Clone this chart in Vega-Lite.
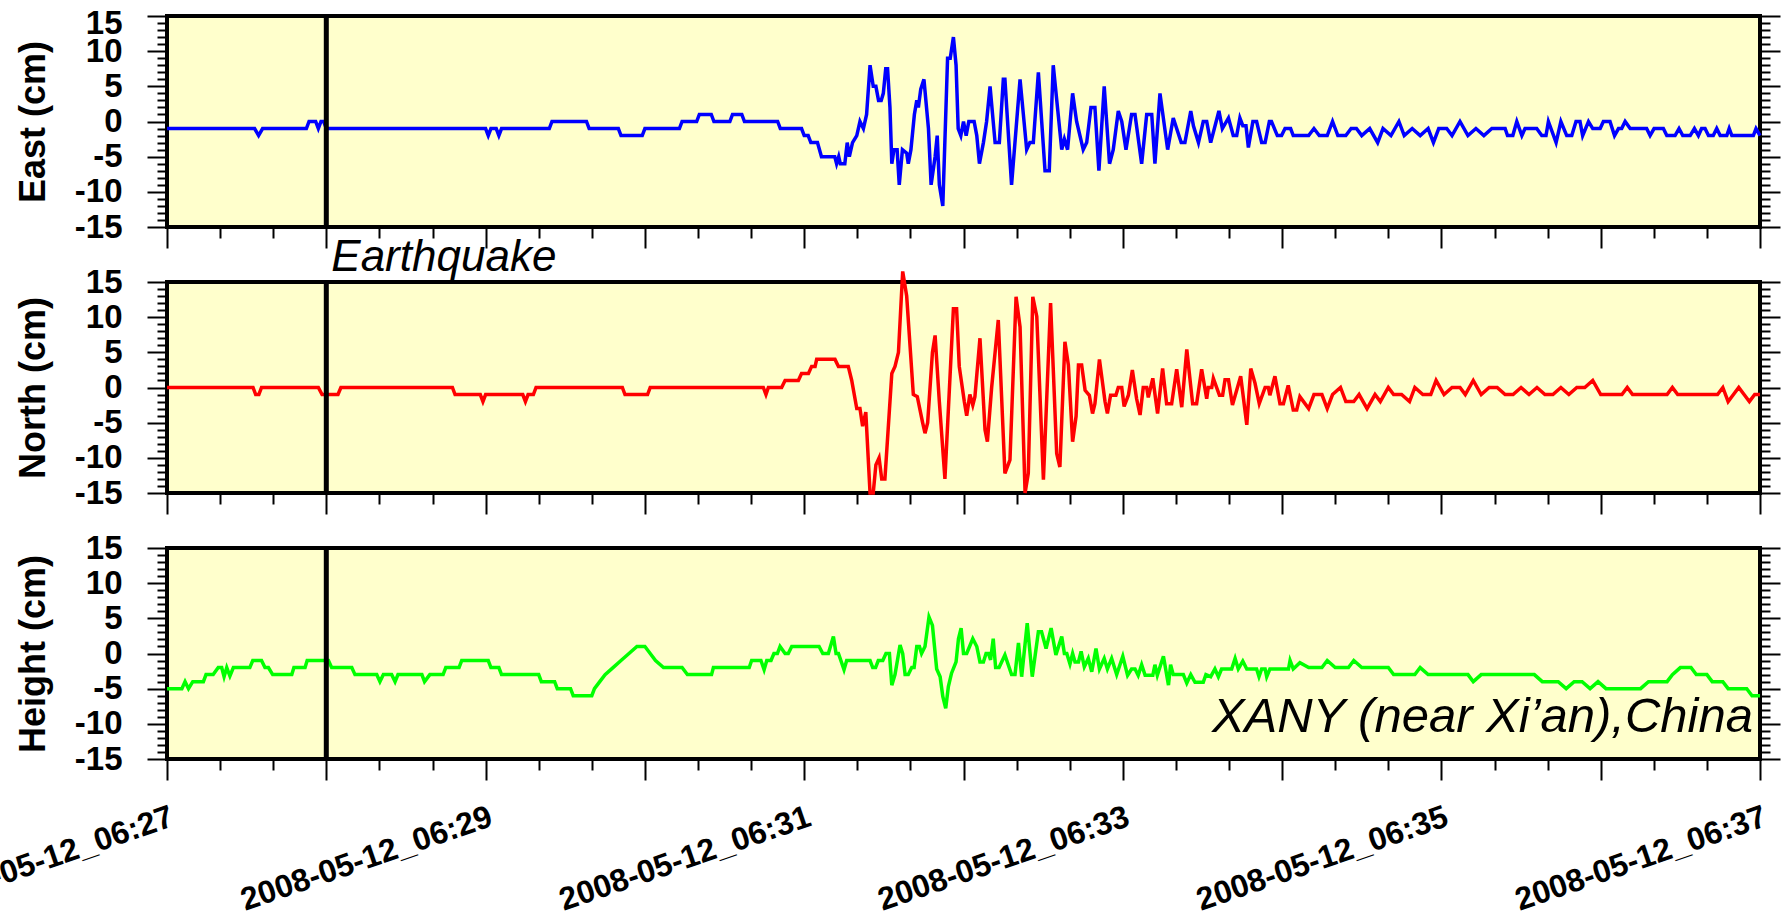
{
  "$schema": "https://vega.github.io/schema/vega-lite/v6.json",
  "autosize": {"type": "none"},
  "padding": {"left": 167, "top": 16, "right": 1618, "bottom": 896},
  "background": "white",
  "bounds": "flush",
  "spacing": 55,
  "config": {
    "view": {"fill": "#ffffcc", "stroke": "black", "strokeWidth": 4},
    "axis": {"domain": false, "grid": false, "tickColor": "black", "tickWidth": 2, "labelColor": "black", "titleColor": "black", "labelFont": "Liberation Sans", "titleFont": "Liberation Sans", "labelOverlap": false}
  },
  "datasets": {
    "quake": [{"t": 60}],
    "east": [
      {"t":0,"v":-1},{"t":33,"v":-1},{"t":34.5,"v":-2},{"t":36,"v":-1},{"t":52.5,"v":-1},{"t":53.5,"v":0},{"t":56,"v":0},{"t":57,"v":-1},{"t":58,"v":0},{"t":59,"v":0},{"t":60,"v":-1},
      {"t":120,"v":-1},{"t":121,"v":-2},{"t":122,"v":-1},{"t":124,"v":-1},{"t":125,"v":-2},{"t":126,"v":-1},{"t":144,"v":-1},{"t":145,"v":0},{"t":158,"v":0},{"t":159,"v":-1},{"t":170,"v":-1},{"t":171,"v":-2},{"t":179,"v":-2},{"t":180,"v":-1},{"t":193,"v":-1},{"t":194,"v":0},{"t":199.5,"v":0},
      {"t":200.5,"v":1},{"t":205,"v":1},{"t":206,"v":0},{"t":212,"v":0},{"t":213,"v":1},{"t":216.5,"v":1},{"t":217.5,"v":0},{"t":230,"v":0},{"t":231,"v":-1},{"t":239,"v":-1},{"t":240,"v":-2},{"t":241.5,"v":-2},{"t":242.5,"v":-3},{"t":245,"v":-3},{"t":246.5,"v":-5},{"t":251.5,"v":-5},{"t":252.2,"v":-6},{"t":253,"v":-5},{"t":253.6,"v":-6},{"t":255.3,"v":-6},{"t":256.2,"v":-3},{"t":257,"v":-5},{"t":258.2,"v":-3},{"t":259.8,"v":-2},{"t":261,"v":0},{"t":262.3,"v":-1},{"t":263.5,"v":1},{"t":264.8,"v":8},{"t":266,"v":5},{"t":267,"v":5},{"t":268,"v":3},{"t":269,"v":3},{"t":269.8,"v":4},{"t":270.7,"v":7.5},{"t":271.4,"v":7.5},{"t":272.3,"v":2},{"t":273,"v":-6},{"t":273.8,"v":-4},{"t":275,"v":-4},{"t":275.8,"v":-9},{"t":277,"v":-4},{"t":278.6,"v":-4.5},{"t":279.2,"v":-6},{"t":280.2,"v":-4},{"t":281.5,"v":1},{"t":282.4,"v":3},{"t":283,"v":2},{"t":283.9,"v":4.6},{"t":285.1,"v":6},{"t":286.8,"v":-1},{"t":287.8,"v":-9},{"t":289.3,"v":-5},{"t":290.1,"v":-2},{"t":290.9,"v":-9},{"t":292.2,"v":-12},{"t":294,"v":9},{"t":295,"v":9},{"t":296.2,"v":12},{"t":297.2,"v":8},{"t":298,"v":-1},{"t":299,"v":-2},{"t":300,"v":0},{"t":301,"v":-2},{"t":302,"v":0},{"t":304,"v":0},{"t":305,"v":-2},{"t":306,"v":-6},{"t":307.5,"v":-3},{"t":308.7,"v":0},{"t":310,"v":5},{"t":311.9,"v":-3},{"t":313.5,"v":-3},
      {"t":315,"v":6},{"t":315.6,"v":6},{"t":318.1,"v":-9},{"t":321.3,"v":6},{"t":323.8,"v":-4},{"t":325,"v":-3},{"t":326.3,"v":-3},{"t":328.2,"v":7},{"t":330.7,"v":-7},{"t":332.3,"v":-7},{"t":333.8,"v":8},{"t":337,"v":-4},{"t":338,"v":-2.5},{"t":339.2,"v":-4},{"t":341.1,"v":4},{"t":342.6,"v":0},{"t":345.1,"v":-4},{"t":346.4,"v":-3},{"t":348,"v":2},{"t":349.5,"v":2},{"t":351,"v":-7},{"t":353,"v":5},{"t":355,"v":-6},{"t":356.4,"v":-4},{"t":358.3,"v":1.5},{"t":359.6,"v":0},{"t":361.2,"v":-4},{"t":363.3,"v":1},{"t":364.6,"v":1},{"t":367.1,"v":-6},{"t":369,"v":1},{"t":370.9,"v":1},{"t":372.1,"v":-6},{"t":374,"v":4},{"t":376.9,"v":-4},{"t":379,"v":0.5},{"t":382,"v":-3},{"t":383.4,"v":-3},{"t":385.6,"v":1.5},{"t":386.6,"v":-0.6},{"t":388.5,"v":-3},{"t":390.3,"v":0},{"t":391.6,"v":0},{"t":393.1,"v":-3},{"t":396.2,"v":1.5},{"t":397.5,"v":-1},{"t":399.8,"v":0.5},{"t":401.6,"v":-2},{"t":402.9,"v":-2},{"t":404.1,"v":0.5},{"t":405.2,"v":-0.6},{"t":406.4,"v":-0.6},{"t":407.3,"v":-3.7},{"t":409,"v":0},{"t":410.4,"v":0},{"t":412.3,"v":-3},{"t":413.6,"v":-3},{"t":415.2,"v":0},{"t":416,"v":0},{"t":418.2,"v":-2},{"t":419.8,"v":-2},{"t":421.1,"v":-1},{"t":423.2,"v":-1},{"t":424.2,"v":-2},{"t":427,"v":-2},
      {"t":430,"v":-2},{"t":432,"v":-1},{"t":434,"v":-2},{"t":437,"v":-2},{"t":439,"v":0},{"t":441,"v":-2},{"t":444,"v":-2},{"t":446,"v":-1},{"t":448,"v":-1},{"t":450,"v":-2},{"t":453,"v":-1},{"t":456,"v":-3},{"t":458,"v":-1},{"t":461,"v":-2},{"t":464,"v":0},{"t":466,"v":-2},{"t":469,"v":-1},{"t":472,"v":-2},{"t":475,"v":-1},{"t":477,"v":-3},{"t":479,"v":-1},{"t":482,"v":-1},{"t":484,"v":-2},{"t":487,"v":0},{"t":490,"v":-2},{"t":493,"v":-1},{"t":496,"v":-2},{"t":499,"v":-1},{"t":502,"v":-1},
      {"t":504,"v":-1},{"t":504.9,"v":-2},{"t":506.9,"v":-2},{"t":508.4,"v":0},{"t":510.3,"v":-2},{"t":511.5,"v":-1},{"t":515.9,"v":-1},{"t":517.8,"v":-2},{"t":519.4,"v":-2},{"t":520.3,"v":0},{"t":523.2,"v":-3},{"t":525,"v":0},{"t":527.2,"v":-2},{"t":529.1,"v":-2},{"t":530.7,"v":0},{"t":532.2,"v":0},{"t":533.2,"v":-2},{"t":535.4,"v":0},{"t":537,"v":-1},{"t":539.8,"v":-1},{"t":541,"v":0},{"t":543.5,"v":0},{"t":545.2,"v":-2},{"t":546.7,"v":-1},{"t":547.9,"v":-1},{"t":549.2,"v":0},{"t":551.1,"v":-1},{"t":557.3,"v":-1},{"t":558.6,"v":-2},{"t":560.1,"v":-1},{"t":563.6,"v":-1},{"t":564.9,"v":-2},{"t":568,"v":-2},{"t":569.5,"v":-1},{"t":570.9,"v":-2},{"t":573.7,"v":-2},{"t":575.3,"v":-1},{"t":576.8,"v":-2},{"t":578,"v":-1},{"t":579.3,"v":-1},{"t":580.6,"v":-2},{"t":582.4,"v":-2},{"t":583.7,"v":-1},{"t":585,"v":-2},{"t":587.5,"v":-2},{"t":588.4,"v":-1},{"t":589.4,"v":-2},{"t":597.5,"v":-2},{"t":598.5,"v":-1},{"t":600,"v":-2}
    ],
    "north": [
      {"t":0,"v":0},{"t":32.4,"v":0},{"t":33.4,"v":-1},{"t":34.6,"v":-1},{"t":35.6,"v":0},{"t":57,"v":0},{"t":58.4,"v":-1},{"t":64.4,"v":-1},{"t":65.5,"v":0},{"t":107.5,"v":0},{"t":108.5,"v":-1},{"t":118,"v":-1},{"t":119,"v":-2},{"t":120,"v":-1},{"t":134,"v":-1},{"t":135,"v":-2},{"t":136,"v":-1},{"t":138,"v":-1},{"t":139,"v":0},{"t":171.5,"v":0},{"t":172.5,"v":-1},{"t":181,"v":-1},{"t":182,"v":0},
      {"t":224.6,"v":0},{"t":225.6,"v":-1},{"t":226.5,"v":0},{"t":231.5,"v":0},{"t":232.8,"v":1},{"t":237.8,"v":1},{"t":239,"v":2},{"t":241.6,"v":2},{"t":242.8,"v":3},{"t":244.1,"v":3},{"t":244.7,"v":4},{"t":251.6,"v":4},{"t":252.9,"v":3},{"t":256.6,"v":3},{"t":257.9,"v":1},{"t":259.8,"v":-3},{"t":261,"v":-3},{"t":262,"v":-5.5},{"t":263.2,"v":-3.5},{"t":264.8,"v":-15},{"t":266,"v":-15},{"t":267,"v":-11},{"t":268.2,"v":-10},{"t":269.2,"v":-13},{"t":270.4,"v":-13},{"t":273,"v":2},{"t":274.2,"v":3},{"t":275.5,"v":5},{"t":277.1,"v":16.5},{"t":278.6,"v":13},{"t":281.1,"v":-1},{"t":282.6,"v":-1.3},{"t":284.6,"v":-5},{"t":285.5,"v":-6.5},{"t":286.5,"v":-5},{"t":288.3,"v":5},{"t":289.3,"v":7.4},{"t":290.9,"v":-2},{"t":293,"v":-13},{"t":296.2,"v":11.2},{"t":297.4,"v":11.2},{"t":298.4,"v":3},{"t":300.3,"v":-2},{"t":301.2,"v":-4},{"t":302.4,"v":-1},{"t":303.5,"v":-2.5},{"t":304.3,"v":-1.3},{"t":306.2,"v":7},{"t":308.1,"v":-6},{"t":309,"v":-7.7},{"t":310.6,"v":0},{"t":311.9,"v":5},{"t":313.1,"v":9.6},
      {"t":315.6,"v":-12.2},{"t":317.5,"v":-10.3},{"t":319.8,"v":12.9},{"t":321.3,"v":8.6},{"t":323.2,"v":-15},{"t":324.4,"v":-12.2},{"t":326.1,"v":12.9},{"t":327.6,"v":10.1},{"t":330.1,"v":-13.1},{"t":332.8,"v":12},{"t":335.1,"v":-9.4},{"t":336.3,"v":-11.3},{"t":338.2,"v":6.5},{"t":339.5,"v":3.2},{"t":341.1,"v":-7.7},{"t":342.4,"v":-4.1},{"t":343.3,"v":3.2},{"t":344.5,"v":3.2},{"t":345.8,"v":-0.4},{"t":347.4,"v":-1.1},{"t":348.6,"v":-3.7},{"t":349.5,"v":-2.3},{"t":351.2,"v":4},{"t":353.3,"v":-2},{"t":354.2,"v":-3.7},{"t":355.4,"v":-1.1},{"t":357.4,"v":-1.1},{"t":358.3,"v":0},{"t":359.6,"v":0},{"t":360.5,"v":-2.7},{"t":362.1,"v":-1.1},{"t":363.6,"v":2.5},{"t":365.2,"v":-1.6},{"t":366.5,"v":-3.9},{"t":367.7,"v":0},{"t":369,"v":0},{"t":369.6,"v":-1.4},{"t":371.3,"v":1.3},{"t":373.1,"v":-3.7},{"t":375,"v":2.7},{"t":376.5,"v":-2.3},{"t":378.4,"v":-2.3},{"t":380.3,"v":2.6},{"t":382.2,"v":-2.8},{"t":384.1,"v":5.4},{"t":386.3,"v":-2.3},{"t":387.8,"v":-2.3},{"t":389.7,"v":2.6},{"t":391.6,"v":-1.6},{"t":392.2,"v":0},{"t":393.5,"v":0},{"t":394.1,"v":1.3},{"t":396.4,"v":-1.1},{"t":397.6,"v":-1.1},{"t":398.5,"v":1.1},{"t":399.8,"v":1.1},{"t":401.3,"v":-2.5},{"t":404.4,"v":1.6},{"t":406.7,"v":-5.3},{"t":408.2,"v":2.7},{"t":409.8,"v":0.6},{"t":411.4,"v":-2.3},{"t":413.6,"v":0},{"t":414.8,"v":0},{"t":415.4,"v":-1.1},{"t":417.3,"v":1.6},{"t":419.2,"v":-2.3},{"t":420.5,"v":-2.3},{"t":422.3,"v":0.3},{"t":424.2,"v":-3.2},{"t":425.5,"v":-3.2},{"t":426.7,"v":-1.3},
      {"t":430,"v":-3},{"t":432,"v":-1},{"t":435,"v":-1},{"t":437,"v":-3},{"t":439,"v":-1},{"t":442,"v":0},{"t":444,"v":-2},{"t":447,"v":-2},{"t":449,"v":-1},{"t":452,"v":-3},{"t":455,"v":-1},{"t":457,"v":-2},{"t":460,"v":0},{"t":462,"v":-1},{"t":465,"v":-1},{"t":468,"v":-2},{"t":470,"v":0},{"t":473,"v":-1},{"t":476,"v":-1},{"t":478,"v":1},{"t":481,"v":-1},{"t":484,"v":0},{"t":487,"v":0},{"t":489,"v":-1},{"t":492,"v":1},{"t":495,"v":-1},{"t":498,"v":0},{"t":501,"v":0},{"t":504,"v":-1},{"t":507,"v":-1},{"t":510,"v":0},{"t":513,"v":-1},{"t":516,"v":0},{"t":519,"v":-1},{"t":522,"v":-1},{"t":525,"v":0},{"t":528,"v":-1},{"t":531,"v":0},{"t":534,"v":0},{"t":537,"v":1},{"t":540,"v":-1},{"t":548,"v":-1},{"t":550,"v":0},{"t":552,"v":-1},{"t":565,"v":-1},{"t":567,"v":0},{"t":569,"v":-1},{"t":584,"v":-1},{"t":586,"v":0},{"t":588,"v":-2},{"t":590,"v":-1},{"t":592,"v":0},{"t":594,"v":-1},{"t":596,"v":-2},{"t":598,"v":-1},{"t":600,"v":-1}
    ],
    "height": [
      {"t":0,"v":-5},{"t":5.6,"v":-5},{"t":6.8,"v":-4},{"t":8.1,"v":-5},{"t":9.7,"v":-4},{"t":13.7,"v":-4},{"t":14.7,"v":-3},{"t":17.4,"v":-3},{"t":19.3,"v":-2},{"t":20.6,"v":-2},{"t":21.5,"v":-3.3},{"t":22.5,"v":-2},{"t":23.7,"v":-3.2},{"t":25,"v":-2},{"t":31.2,"v":-2},{"t":32.3,"v":-1},{"t":35.6,"v":-1},{"t":36.9,"v":-2},{"t":38.2,"v":-2},{"t":39.8,"v":-3},{"t":47,"v":-3},{"t":47.8,"v":-2},{"t":52,"v":-2},{"t":52.8,"v":-1},{"t":60.8,"v":-1},{"t":62,"v":-2},{"t":69.6,"v":-2},{"t":70.8,"v":-3},{"t":79,"v":-3},{"t":80.2,"v":-4},{"t":81.5,"v":-3},{"t":84.6,"v":-3},{"t":85.9,"v":-4},{"t":87,"v":-3},
      {"t":96,"v":-3},{"t":97,"v":-4},{"t":99,"v":-3},{"t":104,"v":-3},{"t":105,"v":-2},{"t":110,"v":-2},{"t":111,"v":-1},{"t":121,"v":-1},{"t":122,"v":-2},{"t":125,"v":-2},{"t":126,"v":-3},{"t":140,"v":-3},{"t":141,"v":-4},{"t":146,"v":-4},{"t":147,"v":-5},{"t":152,"v":-5},{"t":153,"v":-6},{"t":160,"v":-6},{"t":161,"v":-5},{"t":163,"v":-4},{"t":165,"v":-3},{"t":168,"v":-2},{"t":171,"v":-1},{"t":174,"v":0},{"t":177,"v":1},{"t":180,"v":1},{"t":182,"v":0},{"t":184,"v":-1},{"t":187,"v":-2},{"t":194,"v":-2},{"t":196,"v":-3},
      {"t":205.1,"v":-3},{"t":205.8,"v":-2},{"t":219.3,"v":-2},{"t":220.2,"v":-1},{"t":223.7,"v":-1},{"t":224.9,"v":-2.3},{"t":225.9,"v":-1},{"t":227.5,"v":-1},{"t":228.6,"v":0},{"t":229.9,"v":0},{"t":230.9,"v":1},{"t":232.8,"v":0},{"t":234,"v":0},{"t":235.3,"v":1},{"t":245.6,"v":1},{"t":247,"v":0},{"t":249.1,"v":0},{"t":251,"v":2.4},{"t":252,"v":0},{"t":252.9,"v":0},{"t":255,"v":-2.3},{"t":256,"v":-1},{"t":264.8,"v":-1},{"t":265.8,"v":-2},{"t":266.9,"v":-2},{"t":267.9,"v":-1},{"t":269.6,"v":-1},{"t":270.8,"v":0},{"t":272.1,"v":0},{"t":273,"v":-4.5},{"t":274.2,"v":-3},{"t":276.1,"v":1.2},{"t":277.1,"v":0},{"t":278,"v":-3},{"t":279.2,"v":-3},{"t":280.5,"v":-2},{"t":281.4,"v":-2},{"t":282.4,"v":1},{"t":283.4,"v":1},{"t":284.2,"v":0},{"t":285.5,"v":1},{"t":287,"v":5.2},{"t":288.3,"v":4},{"t":289.9,"v":-2.2},{"t":291.2,"v":-3.3},{"t":292.2,"v":-6.1},{"t":293.3,"v":-7.8},{"t":294.3,"v":-4.7},{"t":295.5,"v":-2.8},{"t":297.2,"v":-1.2},{"t":298.1,"v":2.1},{"t":299.1,"v":3.6},{"t":300,"v":0},{"t":301.2,"v":0},{"t":303.5,"v":2.1},{"t":305,"v":1},{"t":306.2,"v":-1.2},{"t":307.5,"v":-1.2},{"t":308.5,"v":0},{"t":309.4,"v":0},{"t":310.2,"v":-0.9},{"t":311.2,"v":2.1},{"t":312.1,"v":-2},{"t":313.4,"v":-2},
      {"t":315.6,"v":-0.2},{"t":318.1,"v":-3},{"t":319.4,"v":-3},{"t":320.7,"v":1.5},{"t":321.9,"v":-3.3},{"t":324,"v":4.3},{"t":325.9,"v":-3.3},{"t":328.2,"v":3.1},{"t":329.4,"v":3.1},{"t":331.1,"v":0.7},{"t":333,"v":3.6},{"t":334.8,"v":-0.2},{"t":337,"v":2.4},{"t":338,"v":0},{"t":338.9,"v":0},{"t":340.1,"v":-1.5},{"t":341.1,"v":0},{"t":342,"v":-1.2},{"t":343.3,"v":-1.2},{"t":344.3,"v":0.3},{"t":345.5,"v":-1.9},{"t":347,"v":-0.7},{"t":348.3,"v":-2.6},{"t":349.9,"v":0.7},{"t":351.2,"v":-2.2},{"t":353,"v":-0.7},{"t":354.2,"v":-2.2},{"t":355.8,"v":-0.7},{"t":357.7,"v":-3},{"t":360,"v":-0.4},{"t":361.8,"v":-3.1},{"t":363.3,"v":-2.2},{"t":364.6,"v":-2.2},{"t":365.8,"v":-3.1},{"t":367.1,"v":-1.6},{"t":368.4,"v":-3.1},{"t":371.3,"v":-3.1},{"t":372.1,"v":-1.6},{"t":373,"v":-3.1},{"t":375.3,"v":-0.4},{"t":377.2,"v":-4.5},{"t":378,"v":-1.6},{"t":379,"v":-3},{"t":382.8,"v":-3},{"t":384.1,"v":-4.2},{"t":385.6,"v":-3},{"t":387.2,"v":-4.1},{"t":390.3,"v":-4.1},{"t":391.3,"v":-3},{"t":393.1,"v":-3.3},{"t":394.7,"v":-2.2},{"t":396,"v":-3.3},{"t":397.2,"v":-2.2},{"t":401,"v":-2.2},{"t":402.3,"v":-0.7},{"t":403.5,"v":-2.2},{"t":405.2,"v":-1.1},{"t":406.7,"v":-2.2},{"t":410.4,"v":-2.2},{"t":411.3,"v":-3.3},{"t":412.3,"v":-2.2},{"t":413.6,"v":-2.2},{"t":414.2,"v":-3.3},{"t":415.4,"v":-2.2},{"t":422.4,"v":-2.2},{"t":423,"v":-1},{"t":424.2,"v":-2.2},{"t":426.7,"v":-1.3},
      {"t":430,"v":-2},{"t":435,"v":-2},{"t":437,"v":-1},{"t":440,"v":-2},{"t":445,"v":-2},{"t":447,"v":-1},{"t":450,"v":-2},{"t":460,"v":-2},{"t":462,"v":-3},{"t":470,"v":-3},{"t":472,"v":-2},{"t":475,"v":-3},{"t":490,"v":-3},{"t":492,"v":-4},{"t":495,"v":-3},{"t":515,"v":-3},{"t":518,"v":-4},{"t":524,"v":-4},{"t":527,"v":-5},{"t":530,"v":-4},{"t":533,"v":-4},{"t":536,"v":-5},{"t":539,"v":-4},{"t":542,"v":-5},{"t":555,"v":-5},{"t":558,"v":-4},{"t":565,"v":-4},{"t":567,"v":-3},{"t":570,"v":-2},{"t":574,"v":-2},{"t":576,"v":-3},{"t":580,"v":-3},{"t":582,"v":-4},{"t":586,"v":-4},{"t":588,"v":-5},{"t":595,"v":-5},{"t":597,"v":-6},{"t":600,"v":-6}
    ]
  },
  "vconcat": [
    {
      "width": 1593, "height": 211,
      "resolve": {"axis": {"y": "independent"}},
      "layer": [
        {
          "data": {"name": "east"},
          "mark": {"type": "line", "color": "#0000ff", "strokeWidth": 3.5, "strokeJoin": "miter"},
          "encoding": {
            "x": {"field": "t", "type": "quantitative", "scale": {"domain": [0, 600], "nice": false, "zero": false},
              "axis": {"values": [0,10,20,30,40,50,60,70,80,90,100,110,120,130,140,150,160,170,180,190,200,210,220,230,240,250,260,270,280,290,300,310,320,330,340,350,360,370,380,390,400,410,420,430,440,450,460,470,480,490,500,510,520,530,540,550,560,570,580,590,600], "labels": false, "title": null,
                "tickSize": {"condition": {"test": "datum.value % 60 === 0", "value": 21}, "value": 11}}},
            "y": {"field": "v", "type": "quantitative", "scale": {"domain": [-15, 15], "nice": false, "zero": false},
              "axis": {"orient": "left", "values": [-15,-14,-13,-12,-11,-10,-9,-8,-7,-6,-5,-4,-3,-2,-1,0,1,2,3,4,5,6,7,8,9,10,11,12,13,14,15],
                "labelExpr": "datum.value % 5 === 0 ? '' + datum.value : ''", "labelFontSize": 33, "labelFontWeight": "bold", "labelPadding": 25,
                "labelOffset": {"condition": {"test": "datum.value === 15", "value": 7}, "value": 0},
                "tickSize": {"condition": {"test": "datum.value % 5 === 0", "value": 20}, "value": 10},
                "title": "East (cm)", "titleFontSize": 36, "titleFontWeight": "bold", "titlePadding": 22}}
          }
        },
        {
          "data": {"name": "east"},
          "mark": {"type": "line", "opacity": 0},
          "encoding": {
            "x": {"field": "t", "type": "quantitative"},
            "y": {"field": "v", "type": "quantitative",
              "axis": {"orient": "right", "values": [-15,-14,-13,-12,-11,-10,-9,-8,-7,-6,-5,-4,-3,-2,-1,0,1,2,3,4,5,6,7,8,9,10,11,12,13,14,15], "labels": false, "title": null,
                "tickSize": {"condition": {"test": "datum.value % 5 === 0", "value": 20}, "value": 10}}}
          }
        },
        {
          "data": {"name": "quake"},
          "mark": {"type": "rule", "color": "black", "strokeWidth": 5},
          "encoding": {"x": {"field": "t", "type": "quantitative"}}
        },
        {
          "data": {"name": "quake"},
          "mark": {"type": "text", "font": "Liberation Sans", "fontStyle": "italic", "fontSize": 44, "color": "black", "align": "left", "baseline": "alphabetic", "dx": 5, "dy": 44},
          "encoding": {"x": {"field": "t", "type": "quantitative"}, "y": {"datum": -15, "type": "quantitative", "axis": null}, "text": {"value": "Earthquake"}}
        }
      ]
    },
    {
      "width": 1593, "height": 211,
      "resolve": {"axis": {"y": "independent"}},
      "layer": [
        {
          "data": {"name": "north"},
          "mark": {"type": "line", "color": "#ff0000", "strokeWidth": 3.5, "strokeJoin": "miter"},
          "encoding": {
            "x": {"field": "t", "type": "quantitative", "scale": {"domain": [0, 600], "nice": false, "zero": false},
              "axis": {"values": [0,10,20,30,40,50,60,70,80,90,100,110,120,130,140,150,160,170,180,190,200,210,220,230,240,250,260,270,280,290,300,310,320,330,340,350,360,370,380,390,400,410,420,430,440,450,460,470,480,490,500,510,520,530,540,550,560,570,580,590,600], "labels": false, "title": null,
                "tickSize": {"condition": {"test": "datum.value % 60 === 0", "value": 21}, "value": 11}}},
            "y": {"field": "v", "type": "quantitative", "scale": {"domain": [-15, 15], "nice": false, "zero": false},
              "axis": {"orient": "left", "values": [-15,-14,-13,-12,-11,-10,-9,-8,-7,-6,-5,-4,-3,-2,-1,0,1,2,3,4,5,6,7,8,9,10,11,12,13,14,15],
                "labelExpr": "datum.value % 5 === 0 ? '' + datum.value : ''", "labelFontSize": 33, "labelFontWeight": "bold", "labelPadding": 25,
                "tickSize": {"condition": {"test": "datum.value % 5 === 0", "value": 20}, "value": 10},
                "title": "North (cm)", "titleFontSize": 36, "titleFontWeight": "bold", "titlePadding": 22}}
          }
        },
        {
          "data": {"name": "north"},
          "mark": {"type": "line", "opacity": 0},
          "encoding": {
            "x": {"field": "t", "type": "quantitative"},
            "y": {"field": "v", "type": "quantitative",
              "axis": {"orient": "right", "values": [-15,-14,-13,-12,-11,-10,-9,-8,-7,-6,-5,-4,-3,-2,-1,0,1,2,3,4,5,6,7,8,9,10,11,12,13,14,15], "labels": false, "title": null,
                "tickSize": {"condition": {"test": "datum.value % 5 === 0", "value": 20}, "value": 10}}}
          }
        },
        {
          "data": {"name": "quake"},
          "mark": {"type": "rule", "color": "black", "strokeWidth": 5},
          "encoding": {"x": {"field": "t", "type": "quantitative"}}
        }
      ]
    },
    {
      "width": 1593, "height": 211,
      "resolve": {"axis": {"y": "independent"}},
      "layer": [
        {
          "data": {"name": "height"},
          "mark": {"type": "line", "color": "#00ff00", "strokeWidth": 3.5, "strokeJoin": "miter"},
          "encoding": {
            "x": {"field": "t", "type": "quantitative", "scale": {"domain": [0, 600], "nice": false, "zero": false},
              "axis": {"values": [0,10,20,30,40,50,60,70,80,90,100,110,120,130,140,150,160,170,180,190,200,210,220,230,240,250,260,270,280,290,300,310,320,330,340,350,360,370,380,390,400,410,420,430,440,450,460,470,480,490,500,510,520,530,540,550,560,570,580,590,600], "title": null,
                "labelExpr": "datum.value % 120 === 0 ? '2008-05-12_06:' + (27 + datum.value / 60) : ''",
                "labelAngle": -19, "labelAlign": "right", "labelBaseline": "top", "labelFontSize": 32, "labelFontWeight": "bold", "labelPadding": 21, "labelLimit": 0, "labelFlush": false, "labelBound": false,
                "tickSize": {"condition": {"test": "datum.value % 60 === 0", "value": 21}, "value": 11}}},
            "y": {"field": "v", "type": "quantitative", "scale": {"domain": [-15, 15], "nice": false, "zero": false},
              "axis": {"orient": "left", "values": [-15,-14,-13,-12,-11,-10,-9,-8,-7,-6,-5,-4,-3,-2,-1,0,1,2,3,4,5,6,7,8,9,10,11,12,13,14,15],
                "labelExpr": "datum.value % 5 === 0 ? '' + datum.value : ''", "labelFontSize": 33, "labelFontWeight": "bold", "labelPadding": 25,
                "tickSize": {"condition": {"test": "datum.value % 5 === 0", "value": 20}, "value": 10},
                "title": "Height (cm)", "titleFontSize": 36, "titleFontWeight": "bold", "titlePadding": 22}}
          }
        },
        {
          "data": {"name": "height"},
          "mark": {"type": "line", "opacity": 0},
          "encoding": {
            "x": {"field": "t", "type": "quantitative"},
            "y": {"field": "v", "type": "quantitative",
              "axis": {"orient": "right", "values": [-15,-14,-13,-12,-11,-10,-9,-8,-7,-6,-5,-4,-3,-2,-1,0,1,2,3,4,5,6,7,8,9,10,11,12,13,14,15], "labels": false, "title": null,
                "tickSize": {"condition": {"test": "datum.value % 5 === 0", "value": 20}, "value": 10}}}
          }
        },
        {
          "data": {"name": "quake"},
          "mark": {"type": "rule", "color": "black", "strokeWidth": 5},
          "encoding": {"x": {"field": "t", "type": "quantitative"}}
        },
        {
          "data": {"name": "quake"},
          "mark": {"type": "text", "font": "Liberation Sans", "fontStyle": "italic", "fontSize": 49, "color": "black", "align": "right", "baseline": "alphabetic", "dx": -7},
          "encoding": {"x": {"datum": 600, "type": "quantitative"}, "y": {"datum": -11.2, "type": "quantitative", "axis": null}, "text": {"value": "XANY (near Xi’an),China"}}
        }
      ]
    }
  ]
}
